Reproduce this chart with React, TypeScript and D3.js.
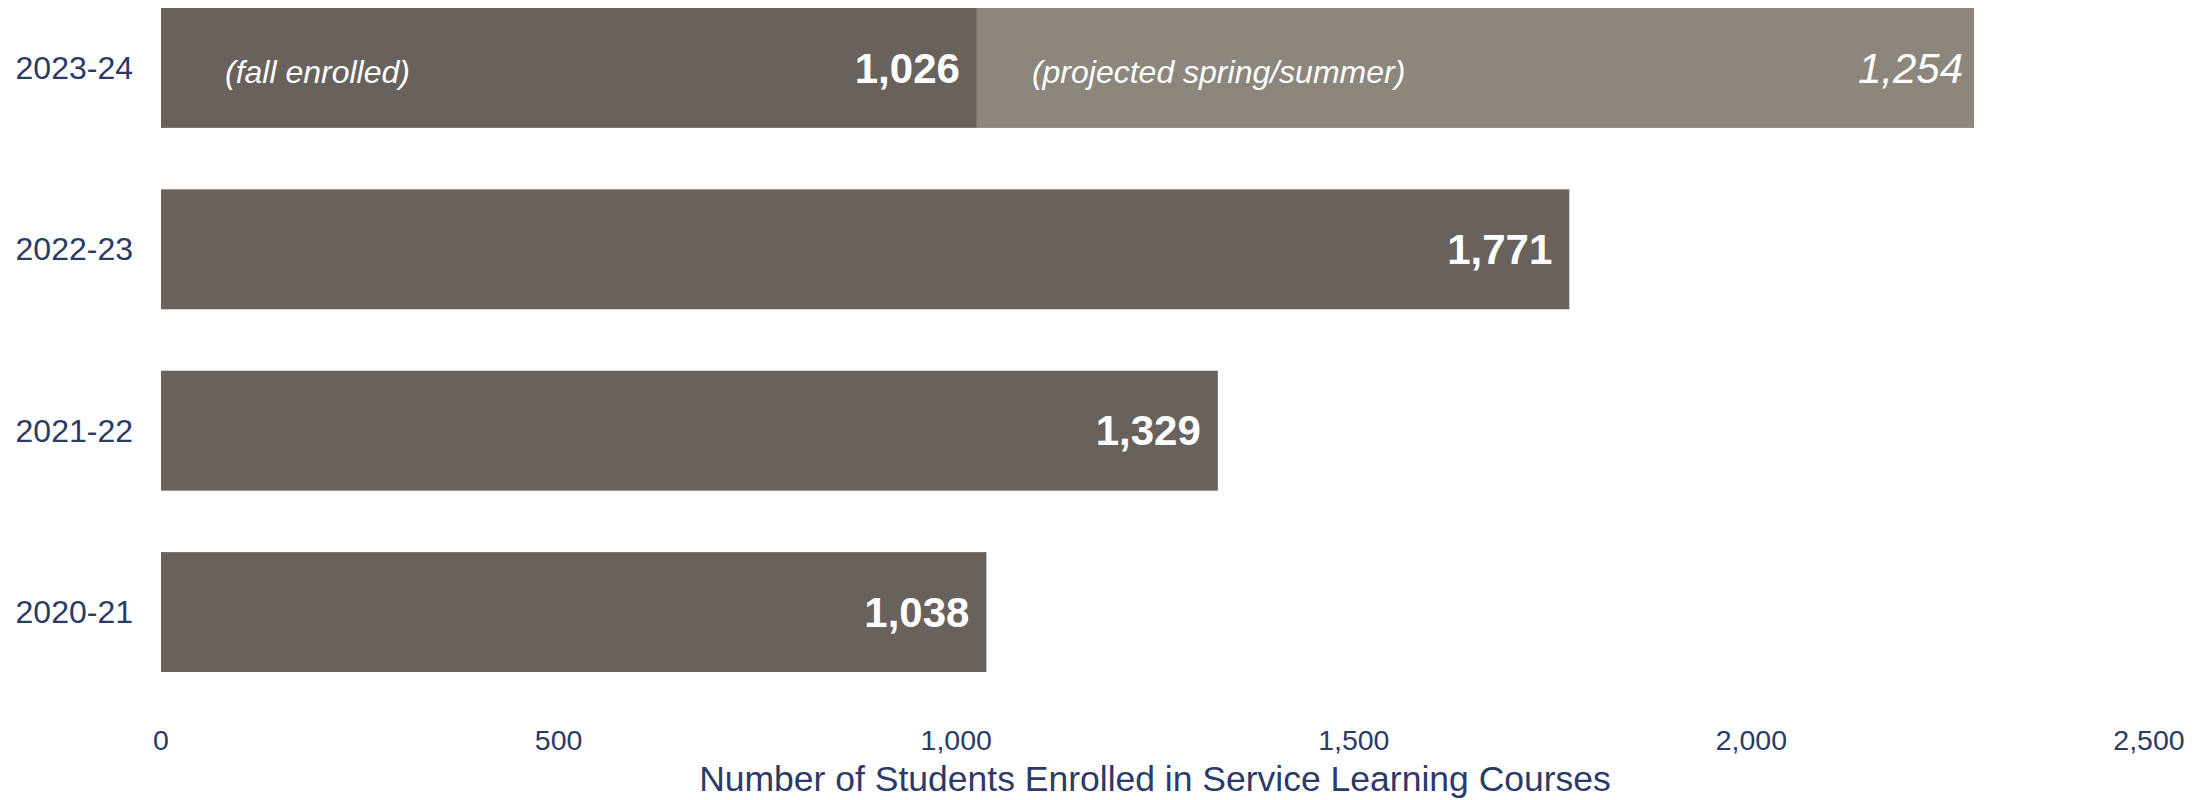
import React from "react";
import * as d3 from "d3";

const years = ["2023-24", "2022-23", "2021-22", "2020-21"];
const enrolled = [1026, 1771, 1329, 1038];
const projected = [1254, 0, 0, 0];
const xTicks = [0, 500, 1000, 1500, 2000, 2500];
const axisTitle = "Number of Students Enrolled in Service Learning Courses";
const fallLabel = "(fall enrolled)";
const projLabel = "(projected spring/summer)";

const W = 2208;
const H = 800;
const DARK = "#69615b";
const LIGHT = "#8c867c";
const NAVY = "#2b3a67";
const FONT = "'Liberation Sans', Arial, Helvetica, sans-serif";

export default function App() {
  const x = d3.scaleLinear().domain([0, 2500]).range([161, 2149]);
  const y = d3.scaleBand<string>().domain(years).range([8, 672]).paddingInner(0.339).paddingOuter(0);
  const fmt = d3.format(",");
  const bw = y.bandwidth();

  return (
    <svg
      width={W}
      height={H}
      style={{ position: "absolute", left: 0, top: 0, display: "block", background: "#fff" }}
      fontFamily={FONT}
    >
      {years.map((yr, i) => {
        const y0 = y(yr)!;
        const cy = y0 + bw / 2;
        const e = enrolled[i];
        const p = projected[i];
        return (
          <g key={yr}>
            <rect x={x(0)} y={y0} width={x(e) - x(0)} height={bw} fill={DARK} />
            {p > 0 && (
              <rect x={x(e)} y={y0} width={x(e + p) - x(e)} height={bw} fill={LIGHT} />
            )}
            <text x={133} y={cy} dy="0.34em" textAnchor="end" fontSize={32} fill={NAVY}>
              {yr}
            </text>
            <text
              x={x(e) - 17}
              y={cy}
              dy="0.35em"
              textAnchor="end"
              fontSize={42}
              fontWeight="bold"
              fill="#fff"
            >
              {fmt(e)}
            </text>
            {p > 0 && (
              <>
                <text x={x(0) + 64} y={cy} dy="0.47em" fontSize={32} fontStyle="italic" fill="#fff">
                  {fallLabel}
                </text>
                <text x={x(e) + 55} y={cy} dy="0.47em" fontSize={32} fontStyle="italic" fill="#fff">
                  {projLabel}
                </text>
                <text
                  x={x(e + p) - 11}
                  y={cy}
                  dy="0.35em"
                  textAnchor="end"
                  fontSize={42}
                  fontStyle="italic"
                  fill="#fff"
                >
                  {fmt(p)}
                </text>
              </>
            )}
          </g>
        );
      })}
      {xTicks.map((t) => (
        <text key={t} x={x(t)} y={750} textAnchor="middle" fontSize={28.5} fill={NAVY}>
          {fmt(t)}
        </text>
      ))}
      <text x={(x(0) + x(2500)) / 2} y={791} textAnchor="middle" fontSize={35.5} fill={NAVY}>
        {axisTitle}
      </text>
    </svg>
  );
}
